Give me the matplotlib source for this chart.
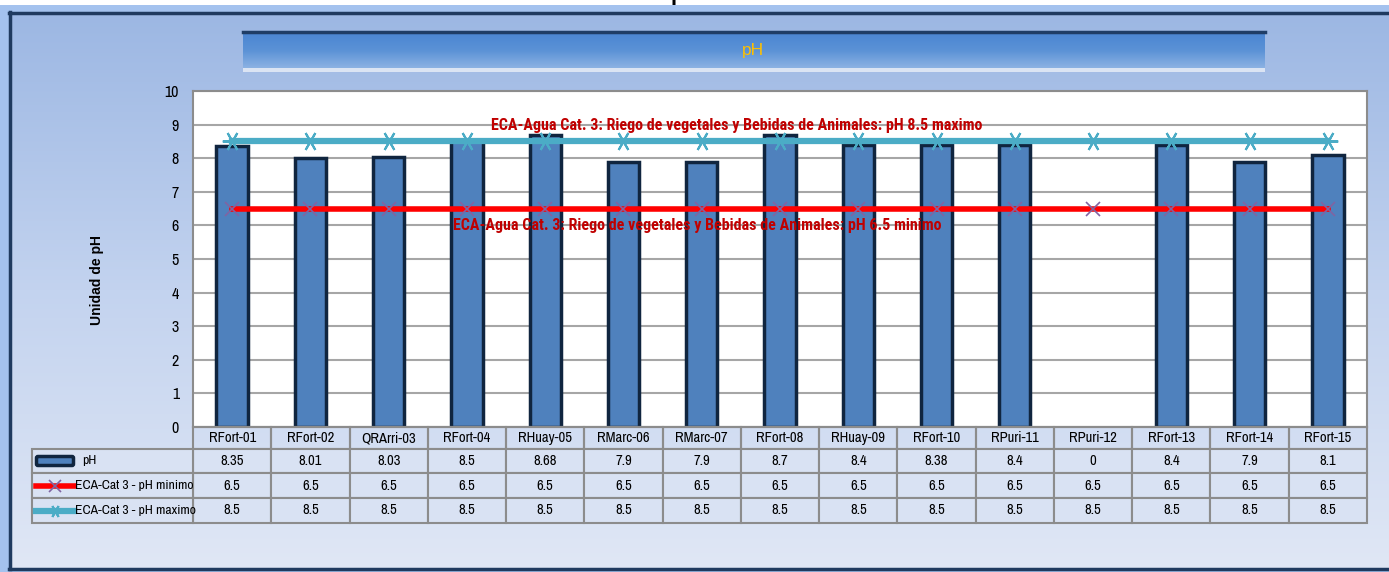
import numpy as np
import matplotlib.pyplot as plt
from matplotlib.colors import LinearSegmentedColormap
from matplotlib.patches import Rectangle, FancyBboxPatch
from matplotlib.lines import Line2D
import matplotlib.transforms as mtransforms
from matplotlib import font_manager


def first_font(names, bold=False):
    # first installed family from names (with a bold face if asked)
    faces = font_manager.fontManager.ttflist
    for n in names:
        if any(f.name == n and (not bold or f.weight in (700, 'bold')) for f in faces):
            return n
    return 'DejaVu Sans'


narrow = first_font(['Liberation Sans Narrow', 'Archivo Narrow', 'Roboto Condensed',
                     'PT Sans Narrow', 'Asap Condensed'])
narrow_bold = first_font(['Liberation Sans Narrow', 'Roboto Condensed', 'PT Sans Narrow',
                          'Open Sans Condensed', 'IBM Plex Sans Condensed',
                          'Fira Sans Condensed', 'Asap Condensed', 'Barlow Semi Condensed'],
                         bold=True)
plt.rcParams['font.family'] = [narrow, 'Liberation Sans', 'DejaVu Sans']

# data
categories = ['RFort-01', 'RFort-02', 'QRArri-03', 'RFort-04', 'RHuay-05', 'RMarc-06',
              'RMarc-07', 'RFort-08', 'RHuay-09', 'RFort-10', 'RPuri-11', 'RPuri-12',
              'RFort-13', 'RFort-14', 'RFort-15']
ph = [8.35, 8.01, 8.03, 8.5, 8.68, 7.9, 7.9, 8.7, 8.4, 8.38, 8.4, 0, 8.4, 7.9, 8.1]
ph_min = [6.5, 6.5, 6.5, 6.5, 6.5, 6.5, 6.5, 6.5, 6.5, 6.5, 6.5, 6.5, 6.5, 6.5, 6.5]
ph_max = [8.5, 8.5, 8.5, 8.5, 8.5, 8.5, 8.5, 8.5, 8.5, 8.5, 8.5, 8.5, 8.5, 8.5, 8.5]
series_names = ['pH', 'ECA-Cat 3 - pH minimo', 'ECA-Cat 3 - pH maximo']
note_max = 'ECA-Agua Cat. 3: Riego de vegetales y Bebidas de Animales: pH 8.5 maximo'
note_min = 'ECA-Agua Cat. 3: Riego de vegetales y Bebidas de Animales: pH 6.5 minimo'

W, H = 1389, 572
bar_face = '#4f81bd'
bar_edge = '#10253f'
red = '#ff0000'
cyan = '#4bacc6'
purple = '#8064a2'
note_col = '#c00000'

fig = plt.figure(figsize=(W / 100, H / 100), dpi=100, facecolor='white')

# background panel (pixel coordinates)
bg = fig.add_axes([0, 0, 1, 1], zorder=-10)
bg.set_xlim(0, W)
bg.set_ylim(H, 0)
bg.axis('off')
bg.add_patch(Rectangle((0, 5), W, H, color='#a4c2ee', lw=0))
panel_cmap = LinearSegmentedColormap.from_list('panel', ['#9cb7e3', '#c3d3ef', '#e0e7f5'])
grad = np.linspace(0, 1, 256).reshape(-1, 1)
bg.imshow(grad, cmap=panel_cmap, extent=[9, W, 568, 12], aspect='auto', zorder=1)
bg.plot([9, W], [12.5, 12.5], color='#1f3a5f', lw=2.5, zorder=3)
bg.plot([9.5, 9.5], [12, 569], color='#1f3a5f', lw=2.5, zorder=3)
bg.plot([9, W], [568.5, 568.5], color='#1f3a5f', lw=2.5, zorder=3)

# title banner
banner_cmap = LinearSegmentedColormap.from_list('banner', ['#4a85d2', '#5b92d6', '#8fb4e4'])
bg.imshow(grad, cmap=banner_cmap, extent=[243, 1265, 69, 32], aspect='auto', zorder=2)
bg.plot([243, 1265], [31.5, 31.5], color='#1f3d66', lw=2.5, zorder=3)
bg.add_patch(Rectangle((243, 68), 1022, 4, color='#dbe4f3', lw=0, zorder=3))
bg.text(753, 51, 'pH', color='#ffc000', fontsize=12.5, ha='center', va='center',
        family='Liberation Sans', zorder=4)

# chart title, mostly above the top edge as in the source
fig.text(685 / W, 1.0, 'pH', ha='center', va='baseline', fontsize=16, weight='bold',
         family='Liberation Sans')

# main plot area
left, right, top, bottom = 193, 1367, 91, 427
ax = fig.add_axes([left / W, 1 - bottom / H, (right - left) / W, (bottom - top) / H])
ax.set_facecolor('white')
x = np.arange(len(categories))
ax.set_xlim(-0.5, len(categories) - 0.5)
ax.set_ylim(0, 10)
ax.set_yticks(range(0, 11))
ax.yaxis.grid(True, color='#a6a6a6', lw=1.5)
ax.set_axisbelow(True)
ax.set_xticks([])
ax.tick_params(axis='y', length=0, pad=10, labelsize=11.5)
for s in ax.spines.values():
    s.set_color('#8c8c8c')
    s.set_linewidth(1.5)

vals = np.array(ph)
mask = vals > 0
ax.bar(x[mask], vals[mask], width=0.4, color=bar_face, edgecolor=bar_edge, lw=2.5, zorder=2)
ax.plot(x, ph_min, color=red, lw=4, marker='x', ms=10, mec=purple, mew=1.2, zorder=3)
ax.plot(x, ph_max, color=cyan, lw=4.5, marker=(6, 2, 90), ms=14, mec=cyan, mew=1.5, zorder=3)

ax.text(6.45, 8.96, note_max, color=note_col, fontsize=11.5, weight='bold',
        family=narrow_bold, ha='center', va='center', zorder=5)
ax.text(5.94, 6.01, note_min, color=note_col, fontsize=11.5, weight='bold',
        family=narrow_bold, ha='center', va='center', zorder=5)

fig.text(97 / W, 1 - 280 / H, 'Unidad de pH', rotation=90, ha='center', va='center',
         fontsize=10, weight='bold', family='Liberation Sans')

# overlay in pixel coordinates for the table and its legend keys
ov = fig.add_axes([0, 0, 1, 1], zorder=10)
ov.set_xlim(0, W)
ov.set_ylim(H, 0)
ov.axis('off')

trans = mtransforms.blended_transform_factory(ax.transData, ov.transData)
row_edges = [427, 449, 473, 498, 523]
grid_col = '#8c8c8c'
cell_col = '#d9e2f3'
rows = [categories, ph, ph_min, ph_max]
for r, row in enumerate(rows):
    y0, y1 = row_edges[r], row_edges[r + 1]
    for i, v in enumerate(row):
        ov.add_patch(Rectangle((i - 0.5, y0), 1, y1 - y0, transform=trans,
                               facecolor=cell_col if r else 'none', edgecolor=grid_col,
                               lw=1.5, zorder=1))
        txt = v if r == 0 else f'{v:g}'
        ov.text(i, (y0 + y1) / 2, txt, transform=trans, ha='center', va='center',
                fontsize=10.5, zorder=3)
    if r > 0:
        ov.add_patch(Rectangle((32, y0), left - 32, y1 - y0, facecolor=cell_col,
                               edgecolor=grid_col, lw=1.5, zorder=1))

# legend keys in the table
kx0, kx1 = 36, 74
ym = [(row_edges[k] + row_edges[k + 1]) / 2 for k in range(1, 4)]
ov.add_patch(FancyBboxPatch((kx0 + 2, ym[0] - 3), kx1 - kx0 - 4, 6,
                            boxstyle='round,pad=1.5', facecolor=bar_face,
                            edgecolor=bar_edge, lw=2.5, zorder=5))
ov.add_line(Line2D([kx0, kx1], [ym[1], ym[1]], color=red, lw=4, zorder=5))
ov.plot([(kx0 + kx1) / 2], [ym[1]], marker='x', ms=8, mec=purple, mew=1.2, zorder=6)
ov.add_line(Line2D([kx0, kx1], [ym[2], ym[2]], color=cyan, lw=4.5, zorder=5))
ov.plot([(kx0 + kx1) / 2], [ym[2]], marker=(6, 2, 90), ms=9, mec=cyan, mew=1.5, zorder=6)
for k, name in enumerate(series_names):
    tx = 82 if k == 0 else 75
    ov.text(tx, ym[k], name, ha='left', va='center', fontsize=9.8, zorder=6)

fig.savefig('out.png', dpi=100, facecolor=fig.get_facecolor())
